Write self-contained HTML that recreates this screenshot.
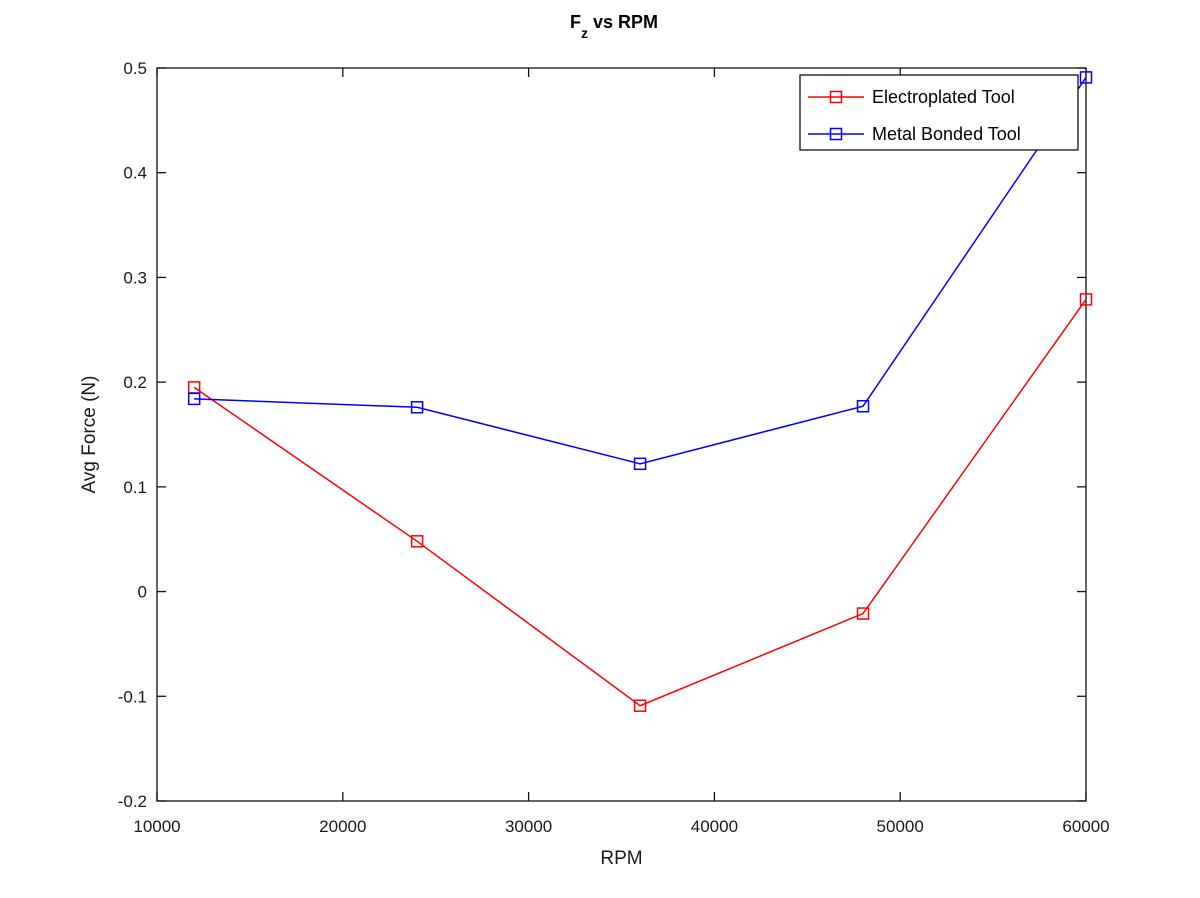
<!DOCTYPE html>
<html><head><meta charset="utf-8"><style>
html,body{margin:0;padding:0;background:#fff;}
svg{display:block;font-family:"Liberation Sans",sans-serif;}
</style></head><body>
<svg id="chart" width="1200" height="898" xmlns="http://www.w3.org/2000/svg"></svg>
<script>
const rpm = [12000, 24000, 36000, 48000, 60000];
const electroplated = [0.195, 0.048, -0.109, -0.021, 0.279];
const metalBonded = [0.184, 0.176, 0.122, 0.177, 0.491];
const xTicks = [10000, 20000, 30000, 40000, 50000, 60000];
const yTicks = [-0.2, -0.1, 0, 0.1, 0.2, 0.3, 0.4, 0.5];

const L=157,R=1086,T=68,B=801;
const xMin=10000,xMax=60000,yMin=-0.2,yMax=0.5;
const sx=v=>L+(v-xMin)/(xMax-xMin)*(R-L);
const sy=v=>B-(v-yMin)/(yMax-yMin)*(B-T);
const svg=document.getElementById('chart');
const NS='http://www.w3.org/2000/svg';
function mk(tag,attrs,parent){const e=document.createElementNS(NS,tag);for(const k in attrs)e.setAttribute(k,attrs[k]);(parent||svg).appendChild(e);return e;}

const frame=mk('rect',{x:L,y:T,width:R-L,height:B-T,fill:'none',stroke:'#111','stroke-width':1.3});



xTicks.forEach(t=>{
  const x=sx(t);
  const g=mk('g',{});
  
  
  mk('line',{x1:x,y1:B,x2:x,y2:B-9,stroke:'#111','stroke-width':1.3},g);
  mk('line',{x1:x,y1:T,x2:x,y2:T+9,stroke:'#111','stroke-width':1.3},g);
  const tx=mk('text',{x:x,y:B+31,'text-anchor':'middle','font-size':17,fill:'#1a1a1a'},g);
  tx.textContent=t;
});
yTicks.forEach(t=>{
  const y=sy(t);
  const g=mk('g',{});
  
  
  mk('line',{x1:L,y1:y,x2:L+9,y2:y,stroke:'#111','stroke-width':1.3},g);
  mk('line',{x1:R,y1:y,x2:R-9,y2:y,stroke:'#111','stroke-width':1.3},g);
  const tx=mk('text',{x:L-10,y:y+6,'text-anchor':'end','font-size':17,fill:'#1a1a1a'},g);
  tx.textContent=Math.abs(t)<1e-9?'0':String(Math.round(t*10)/10);
});

function series(vals,color,name){
  const g=mk('g',{});
  
  
  mk('polyline',{points:rpm.map((r,i)=>sx(r)+','+sy(vals[i])).join(' '),fill:'none',stroke:color,'stroke-width':1.5},g);
  rpm.forEach((r,i)=>{
    const m=mk('rect',{x:sx(r)-5.5,y:sy(vals[i])-5.5,width:11,height:11,fill:'none',stroke:color,'stroke-width':1.5},g);
    
    
  });
}
series(electroplated,'#ff0000','electroplated-series');
series(metalBonded,'#0000ff','metal-bonded-series');

const lg=mk('g',{});


mk('rect',{x:800,y:75,width:278,height:75,fill:'#fff',stroke:'#111','stroke-width':1.3},lg);
[['Electroplated Tool','#ff0000',97],['Metal Bonded Tool','#0000ff',134]].forEach(([lab,c,y])=>{
  const e=mk('g',{},lg);
  
  
  mk('line',{x1:808,y1:y,x2:864,y2:y,stroke:c,'stroke-width':1.5},e);
  mk('rect',{x:830.5,y:y-5.5,width:11,height:11,fill:'none',stroke:c,'stroke-width':1.5},e);
  const t=mk('text',{x:872,y:y+6,'font-size':18,fill:'#000'},e);
  t.textContent=lab;
});

const xl=mk('text',{x:(L+R)/2,y:864,'text-anchor':'middle','font-size':19,fill:'#1a1a1a'});
xl.textContent='RPM';


const yl=mk('text',{x:0,y:0,'text-anchor':'middle','font-size':19,fill:'#1a1a1a',transform:'translate(95,'+((T+B)/2)+') rotate(-90)'});
yl.textContent='Avg Force (N)';


const title=mk('text',{x:614,y:28,'text-anchor':'middle','font-size':18,'font-weight':'bold',fill:'#000'});
title.innerHTML='F<tspan dy="10" font-size="14">z</tspan><tspan dy="-10"> vs RPM</tspan>';


</script>
</body></html>
